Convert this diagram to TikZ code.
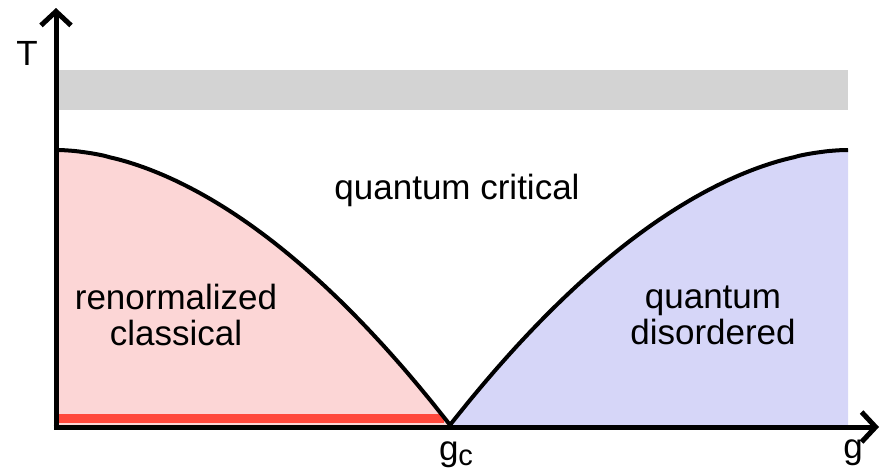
\documentclass[tikz,border=0pt]{standalone}
\usepackage{fontspec}
\setmainfont{Liberation Sans}
\usetikzlibrary{arrows.meta}
\definecolor{pinkfill}{RGB}{252,214,214}
\definecolor{bluefill}{RGB}{214,214,248}
\definecolor{bandgray}{RGB}{211,211,211}
\definecolor{redline}{RGB}{255,72,60}
\tikzset{
  lbl/.style={font=\fontsize{35}{36}\selectfont, inner sep=0pt, align=center},
  axisline/.style={line width=5pt, -{Straight Barb[length=14pt,width=30pt,line width=5pt]}},
  curveline/.style={line width=4pt, line join=round}
}
\begin{document}
\begin{tikzpicture}[x=1pt,y=-1pt]
\useasboundingbox (0,0) rectangle (882,475);
\coordinate (O) at (56,425);
\coordinate (C) at (450,425);
\coordinate (L) at (56,150);
\coordinate (R) at (848,150);
\coordinate (RB) at (848,425);
% fills
\fill[bandgray] (58,70) rectangle (848,110);
\fill[pinkfill] plot[domain=56:450,samples=90,smooth] (\x,{150+275*exp(1.84*ln((\x-56)/394+0.00001))}) -- (O) -- cycle;
\fill[bluefill] plot[domain=450:848,samples=90,smooth] (\x,{150+275*exp(1.84*ln((848-\x)/398+0.00001))}) -- (RB) -- cycle;
\fill[redline] (58,414) rectangle (444,423);
% curves
\draw[curveline] plot[domain=56:450,samples=90,smooth] (\x,{150+275*exp(1.84*ln((\x-56)/394+0.00001))});
\draw[curveline] plot[domain=450:848,samples=90,smooth] (\x,{150+275*exp(1.84*ln((848-\x)/398+0.00001))});
% axes
\coordinate (Ytip) at (56,8);
\coordinate (Xtip) at (879,427);
\draw[axisline] (56,427.5) -- (Ytip);
\draw[axisline] (53.5,427) -- (Xtip);
% labels
\node[lbl] (Tlab) at (27,53) {T};
\node[lbl] (gclab) at (456,455) {g\raisebox{-5pt}{\fontsize{29}{29}\selectfont c}};
\node[lbl] (glab) at (853,453) {g};
\node[lbl] (qc) at (457,190) {quantum critical};
\node[lbl] (rc) at (176,315) {renormalized\\classical};
\node[lbl] (qd) at (713,315) {quantum\\disordered};
\end{tikzpicture}
\end{document}
